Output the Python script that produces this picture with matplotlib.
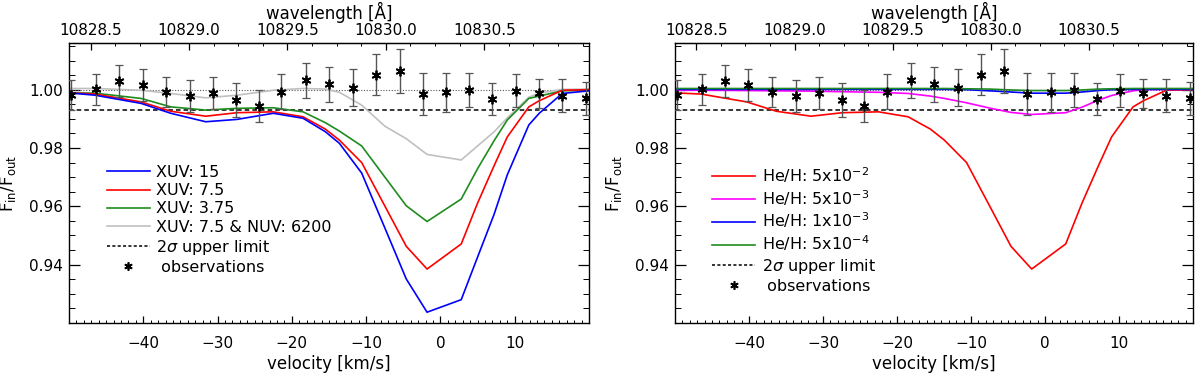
import numpy as np
import matplotlib
matplotlib.use('Agg')
import matplotlib.pyplot as plt
from matplotlib.lines import Line2D
from matplotlib.ticker import MultipleLocator, FixedLocator, FormatStrFormatter

plt.rcParams['font.family'] = ['DejaVu Sans']
plt.rcParams['mathtext.fontset'] = 'dejavusans'

# ---------------- data ----------------
obs_v = [-49.7, -46.4, -43.3, -40.1, -36.9, -33.7, -30.6, -27.5, -24.4, -21.4, -18.1, -15.0,
         -11.8, -8.7, -5.5, -2.4, 0.8, 3.9, 7.0, 10.2, 13.3, 16.4, 19.6]
obs_y = [0.9981, 1.0001, 1.0029, 1.0015, 0.9993, 0.9979, 0.9989, 0.9964, 0.9944, 0.9993, 1.0032, 1.0019,
         1.0007, 1.0051, 1.0063, 0.9985, 0.9991, 0.9998, 0.9968, 0.9996, 0.9987, 0.9979, 0.9970]
obs_err = [0.0051, 0.0054, 0.0055, 0.0055, 0.0052, 0.0055, 0.0056, 0.0058, 0.0056, 0.0060, 0.0060, 0.0060,
           0.0064, 0.0071, 0.0076, 0.0072, 0.0067, 0.0059, 0.0056, 0.0056, 0.0051, 0.0057, 0.0057]

model_v = [-50, -46.5, -40.3, -36.3, -31.6, -27.4, -22.5, -18.5, -15.5, -13.6, -10.6, -7.5,
           -4.6, -1.8, 2.8, 5.0, 7.2, 9.0, 11.9, 13.3, 16.4, 20.0]

xuv_15 = [0.9989, 0.9981, 0.9953, 0.9919, 0.9890, 0.9898, 0.9919, 0.9902, 0.9856, 0.9816, 0.9714, 0.9527,
          0.9351, 0.9237, 0.9280, 0.9426, 0.9571, 0.9708, 0.9879, 0.9919, 0.9987, 0.9996]
xuv_7p5 = [0.9989, 0.9985, 0.9958, 0.9926, 0.9909, 0.9921, 0.9924, 0.9907, 0.9865, 0.9827, 0.9750, 0.9602,
           0.9463, 0.9385, 0.9471, 0.9611, 0.9738, 0.9838, 0.9941, 0.9962, 0.9998, 1.0000]
xuv_3p75 = [0.9989, 0.9988, 0.9970, 0.9941, 0.9930, 0.9936, 0.9938, 0.9924, 0.9887, 0.9858, 0.9807, 0.9701,
            0.9602, 0.9548, 0.9625, 0.9729, 0.9824, 0.9896, 0.9970, 0.9978, 0.9996, 0.9998]
xuv_nuv = [1.0004, 1.0004, 0.9998, 0.9987, 0.9972, 0.9981, 0.9998, 1.0004, 1.0002, 0.9991, 0.9947, 0.9875,
           0.9832, 0.9778, 0.9759, 0.9807, 0.9855, 0.9903, 0.9974, 0.9988, 1.0001, 1.0002]

heh_5e2 = xuv_7p5
heh_5e3 = [0.9998, 0.9998, 0.9997, 0.9996, 0.9995, 0.9993, 0.9991, 0.9987, 0.9978, 0.9970, 0.9955, 0.9937,
           0.9922, 0.9915, 0.9921, 0.9940, 0.9964, 0.9980, 0.9996, 1.0000, 1.0001, 1.0001]
heh_1e3 = [1.0001, 1.0001, 1.0001, 1.0001, 1.0001, 1.0001, 1.0001, 1.0001, 1.0001, 1.0001, 1.0000, 0.9996,
           0.9992, 0.9988, 0.9988, 0.9992, 0.9997, 1.0000, 1.0001, 1.0001, 1.0001, 1.0001]
heh_5e4 = [1.0004, 1.0004, 1.0004, 1.0004, 1.0004, 1.0004, 1.0004, 1.0004, 1.0004, 1.0004, 1.0003, 1.0002,
           0.9999, 0.9997, 0.9997, 0.9999, 1.0002, 1.0003, 1.0004, 1.0004, 1.0004, 1.0004]

upper_limit = 0.9929
unity = 1.0

left_labels = ['XUV: 15', 'XUV: 7.5', 'XUV: 3.75', 'XUV: 7.5 & NUV: 6200']
right_labels = [r'He/H: 5x10$^{-2}$', r'He/H: 5x10$^{-3}$', r'He/H: 1x10$^{-3}$', r'He/H: 5x10$^{-4}$']
vel_ticks = [-40, -30, -20, -10, 0, 10]
wl_ticks = [10828.5, 10829.0, 10829.5, 10830.0, 10830.5]

# velocity <-> wavelength mapping of the top axis
WL_REF, V_REF, KMS_PER_A = 10830.5, 5.9, 26.5


def v2l(v):
    return WL_REF + (np.asarray(v) - V_REF) / KMS_PER_A


def l2v(l):
    return V_REF + (np.asarray(l) - WL_REF) * KMS_PER_A


FS_TICK = 11
FS_LAB = 12
FS_LEG = 11.5
fig = plt.figure(figsize=(12, 3.78), dpi=100)
ax1 = fig.add_axes([69 / 1200, 55 / 378, 520 / 1200, 280 / 378])
ax2 = fig.add_axes([675 / 1200, 55 / 378, 518 / 1200, 280 / 378])


def style(ax):
    ax.set_xlim(-50, 20)
    ax.set_ylim(0.92, 1.016)
    ax.xaxis.set_major_locator(FixedLocator(vel_ticks))
    ax.xaxis.set_minor_locator(MultipleLocator(1))
    ax.yaxis.set_major_locator(FixedLocator([0.94, 0.96, 0.98, 1.00]))
    ax.yaxis.set_minor_locator(MultipleLocator(0.005))
    ax.yaxis.set_major_formatter(FormatStrFormatter('%.2f'))
    ax.tick_params(axis='x', which='major', direction='in', length=5, width=0.9, top=False, bottom=True,
                   labelsize=FS_TICK, pad=9)
    ax.tick_params(axis='x', which='minor', direction='in', length=2.5, width=0.7, top=False, bottom=True)
    ax.tick_params(axis='y', which='major', direction='in', length=8, width=0.9, left=True, right=True,
                   labelsize=FS_TICK, pad=4.3)
    ax.tick_params(axis='y', which='minor', direction='in', length=4, width=0.7, left=True, right=True)
    for s in ax.spines.values():
        s.set_linewidth(1.0)
    ax.set_xlabel('velocity [km/s]', fontsize=FS_LAB, labelpad=3)
    ax.set_ylabel(r'F$_{\rm in}$/F$_{\rm out}$', fontsize=FS_LAB, labelpad=8)
    sec = ax.secondary_xaxis('top', functions=(v2l, l2v))
    sec.xaxis.set_major_locator(FixedLocator(wl_ticks))
    sec.xaxis.set_minor_locator(MultipleLocator(0.125))
    sec.xaxis.set_major_formatter(FormatStrFormatter('%.1f'))
    sec.tick_params(axis='x', which='major', direction='in', length=5, width=0.9, labelsize=FS_TICK, pad=3.5)
    sec.tick_params(axis='x', which='minor', direction='in', length=2.5, width=0.7)
    sec.set_xlabel('wavelength [Å]', fontsize=FS_LAB, labelpad=3)
    ax.axhline(unity, color='#555555', lw=0.8, ls=(0, (1, 1.5)))
    ax.axhline(upper_limit, color='black', lw=1.1, ls=(0, (3, 2)))
    ax.errorbar(obs_v, obs_y, yerr=obs_err, fmt='none', ecolor='#555555', elinewidth=1.0,
                capsize=2.8, capthick=0.9, zorder=3)
    ax.plot(obs_v, obs_y, ls='none', marker=(6, 2, 0), ms=7, mec='black', mew=1.3, zorder=4)


lw = 1.2
c_blue, c_red, c_green, c_grey, c_mag = '#0000ff', '#ff0000', '#1e8c1e', '#c0c0c0', '#ff00ff'

# left panel
style(ax1)
l1 = ax1.plot(model_v, xuv_nuv, color=c_grey, lw=lw, zorder=2)[0]
l2 = ax1.plot(model_v, xuv_3p75, color=c_green, lw=lw, zorder=2)[0]
l3 = ax1.plot(model_v, xuv_7p5, color=c_red, lw=lw, zorder=2)[0]
l4 = ax1.plot(model_v, xuv_15, color=c_blue, lw=lw, zorder=2)[0]

# right panel
style(ax2)
r1 = ax2.plot(model_v, heh_5e2, color=c_red, lw=lw, zorder=2)[0]
r2 = ax2.plot(model_v, heh_5e3, color=c_mag, lw=lw, zorder=2)[0]
r3 = ax2.plot(model_v, heh_1e3, color=c_blue, lw=lw, zorder=2)[0]
r4 = ax2.plot(model_v, heh_5e4, color=c_green, lw=lw, zorder=2)[0]

h_ul = Line2D([], [], color='black', lw=1.1, ls=(0, (2, 1.5)))
h_obs = Line2D([], [], color='black', ls='none', marker=(6, 2, 0), ms=6, mew=1.2)

for ax, handles, labels, x0 in [
        (ax1, [l4, l3, l2, l1], left_labels, (106.7 - 69) / 520),
        (ax2, [r1, r2, r3, r4], right_labels, (712 - 675) / 518)]:
    leg = ax.legend(handles + [h_ul, h_obs], labels + [r'2$\sigma$ upper limit', ' observations'],
                    loc='upper left', bbox_to_anchor=(x0, (323 - 165) / 280), frameon=False,
                    fontsize=FS_LEG, borderpad=0, borderaxespad=0, handlelength=2.7,
                    handletextpad=0.4, labelspacing=0.2)

fig.savefig('out.png', dpi=100)
